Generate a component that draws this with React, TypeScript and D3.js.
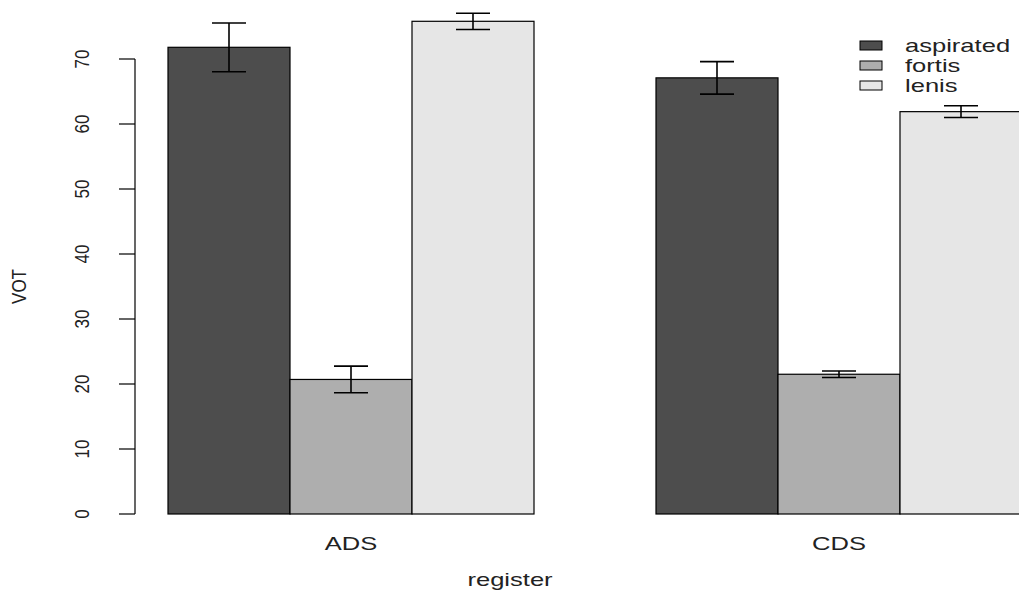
import React from "react";
import * as d3 from "d3";

const groups = ["ADS", "CDS"];
const series = ["aspirated", "fortis", "lenis"];
const colors = ["#4D4D4D", "#AEAEAE", "#E6E6E6"];
// means [group][series]
const meansADS = [71.8, 20.7, 75.8];
const meansCDS = [67.1, 21.5, 61.9];
const errADS = [3.75, 2.05, 1.25];
const errCDS = [2.5, 0.5, 0.9];
const yTicks = [0, 10, 20, 30, 40, 50, 60, 70];

const W = 1019;
const H = 595;
const FONT = "'Liberation Sans', Arial, Helvetica, sans-serif";

export default function App() {
  const means = [meansADS, meansCDS];
  const errs = [errADS, errCDS];
  const x0 = d3.scaleBand<string>().domain(groups).range([168, 1022]).paddingInner(0.25).paddingOuter(0);
  const x1 = d3.scaleBand<string>().domain(series).range([0, x0.bandwidth()]).padding(0);
  const y = d3.scaleLinear().domain([0, 70]).range([514, 59]);
  const axisX = 135;
  const sx = 1.42;
  const capHalf = 17;

  return (
    <svg width={W} height={H} style={{ position: "absolute", left: 0, top: 0, background: "#fff" }} fontFamily={FONT}>
      <rect x={0} y={0} width={W} height={H} fill="#fff" />
      {/* bars */}
      {groups.map((g, gi) =>
        series.map((s, si) => {
          const bx = (x0(g) as number) + (x1(s) as number);
          const bw = x1.bandwidth();
          return (
            <rect
              key={g + s}
              x={bx}
              y={y(means[gi][si])}
              width={bw}
              height={y(0) - y(means[gi][si])}
              fill={colors[si]}
              stroke="#000"
              strokeWidth={1.2}
            />
          );
        })
      )}
      {/* error bars */}
      {groups.map((g, gi) =>
        series.map((s, si) => {
          const cx = (x0(g) as number) + (x1(s) as number) + x1.bandwidth() / 2;
          const hi = y(means[gi][si] + errs[gi][si]);
          const lo = y(means[gi][si] - errs[gi][si]);
          return (
            <g key={"e" + g + s} stroke="#000" strokeWidth={1.6}>
              <line x1={cx} x2={cx} y1={hi} y2={lo} />
              <line x1={cx - capHalf} x2={cx + capHalf} y1={hi} y2={hi} />
              <line x1={cx - capHalf} x2={cx + capHalf} y1={lo} y2={lo} />
            </g>
          );
        })
      )}
      {/* y axis */}
      <line x1={axisX} x2={axisX} y1={y(0)} y2={y(70)} stroke="#000" strokeWidth={1.2} />
      {yTicks.map((t) => (
        <g key={t}>
          <line x1={axisX - 16} x2={axisX} y1={y(t)} y2={y(t)} stroke="#000" strokeWidth={1.2} />
          <text
            transform={`translate(88.5,${y(t)}) scale(1.2,1) rotate(-90)`}
            textAnchor="middle"
            fontSize={17}
            fill="#222"
          >
            {t}
          </text>
        </g>
      ))}
      <text transform={`translate(26,${y(35)}) scale(1.2,1) rotate(-90)`} textAnchor="middle" fontSize={17} fill="#222">
        VOT
      </text>
      {/* group labels */}
      {groups.map((g) => (
        <text
          key={"l" + g}
          transform={`translate(${(x0(g) as number) + x0.bandwidth() / 2},550) scale(${sx},1)`}
          textAnchor="middle"
          fontSize={18}
          fill="#222"
        >
          {g}
        </text>
      ))}
      <text transform={`translate(510,586) scale(${sx},1)`} textAnchor="middle" fontSize={18} fill="#222">
        register
      </text>
      {/* legend */}
      {series.map((s, si) => (
        <g key={"lg" + s}>
          <rect x={860} y={41 + si * 20} width={22} height={9} fill={colors[si]} stroke="#000" strokeWidth={1} />
          <text transform={`translate(905,${52 + si * 20}) scale(${sx},1)`} fontSize={18} fill="#222">
            {s}
          </text>
        </g>
      ))}
    </svg>
  );
}
